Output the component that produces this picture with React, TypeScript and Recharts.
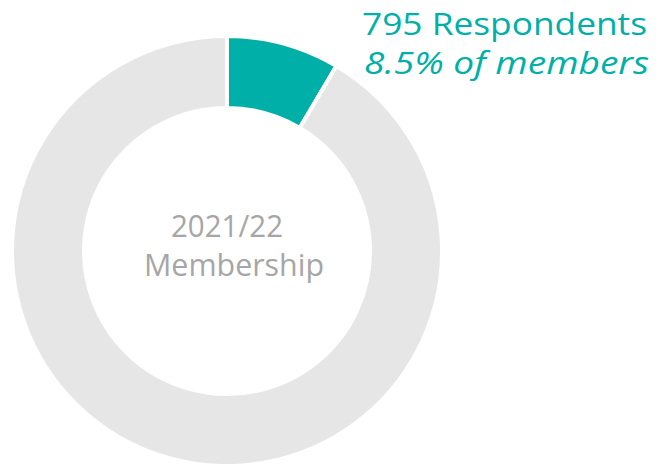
import { PieChart, Pie, Cell, Label } from 'recharts';

// membership split for 2021/22
const groups = ['Respondents', 'Other members'];
const counts = [795, 8558];
const colors = ['#00b0a8', '#e6e6e6'];

const headline = '795 Respondents';
const subline = '8.5% of members';
const centerLines = ['2021/22', 'Membership'];

const data = groups.map((name, i) => ({ name, value: counts[i] }));

const FONT = '"Open Sans", "Noto Sans", sans-serif';
const CX = 227;
const CY = 251;

function CenterText() {
  return (
    <text textAnchor="middle" fill="#a6a6a6" fontFamily={FONT} fontSize={31}>
      <tspan x={CX} y={237} textLength={112} lengthAdjust="spacingAndGlyphs">{centerLines[0]}</tspan>
      <tspan x={CX + 7} y={276} textLength={180} lengthAdjust="spacingAndGlyphs">{centerLines[1]}</tspan>
    </text>
  );
}

function CalloutText() {
  return (
    <text textAnchor="start" fill="#00b0a8" fontFamily={FONT} fontSize={31}>
      <tspan x={362} y={35} textLength={285} lengthAdjust="spacingAndGlyphs">{headline}</tspan>
      <tspan x={364} y={74} fontStyle="italic" textLength={285} lengthAdjust="spacingAndGlyphs">{subline}</tspan>
    </text>
  );
}

export default function App() {
  return (
    <div style={{ position: 'absolute', left: 0, top: 0, width: 659, height: 464, background: '#fff' }}>
      <PieChart width={659} height={464} margin={{ top: 0, right: 0, bottom: 0, left: 0 }}>
        <Pie
          data={data}
          dataKey="value"
          nameKey="name"
          cx={CX}
          cy={CY}
          innerRadius={143}
          outerRadius={215}
          startAngle={90}
          endAngle={-270}
          stroke="#ffffff"
          strokeWidth={4}
          isAnimationActive={false}
        >
          {data.map((d, i) => (
            <Cell key={d.name} fill={colors[i]} />
          ))}
          <Label position="center" content={CenterText} />
          <Label position="center" content={CalloutText} />
        </Pie>
      </PieChart>
    </div>
  );
}
